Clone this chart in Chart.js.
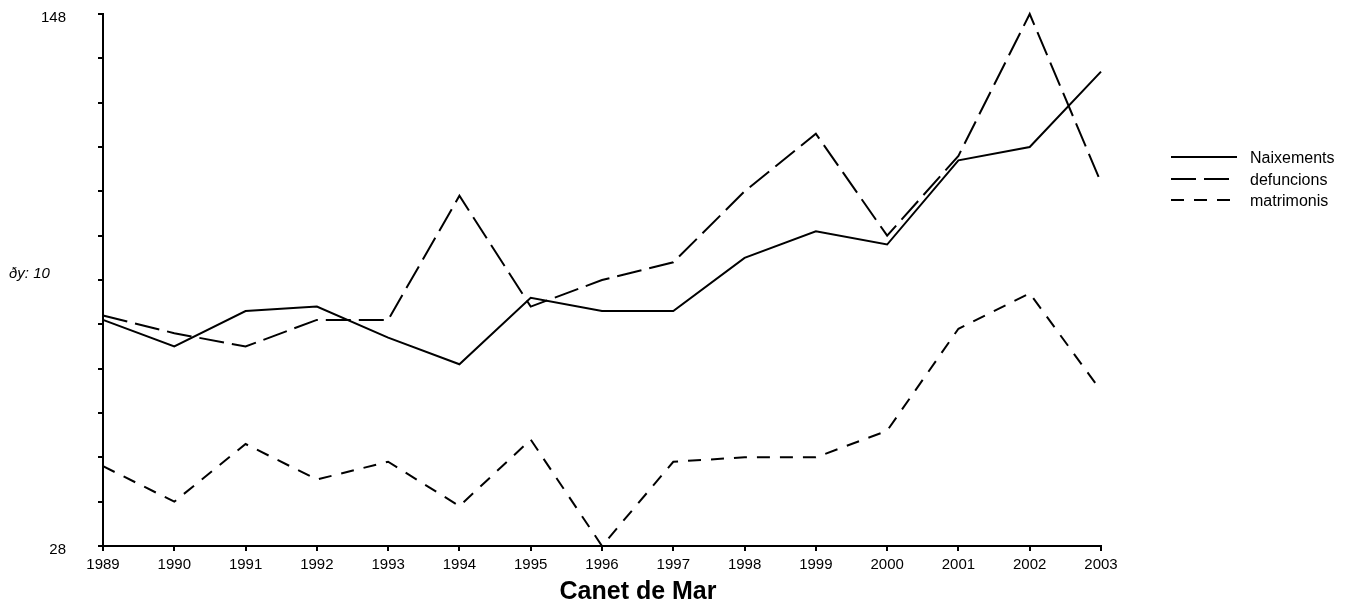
<!DOCTYPE html>
<html>
<head>
<meta charset="utf-8">
<script src="https://cdn.jsdelivr.net/npm/chart.js@4"></script>
<style>
  body { margin: 0; background: #fff; }
  #chart { display: block; }
</style>
</head>
<body>
<canvas id="chart" width="1351" height="608"></canvas>
<script>
// years along the bottom
const years = ['1989','1990','1991','1992','1993','1994','1995','1996','1997','1998','1999','2000','2001','2002','2003'];

// values
const naixements = [79, 73, 81, 82, 75, 69, 84, 81, 81, 93, 99, 96, 115, 118, 135];
const defuncions = [80, 76, 73, 79, 79, 107, 82, 88, 92, 108, 121, 98, 116, 148, 110];
const matrimonis = [46, 38, 51, 43, 47, 37, 52, 28, 47, 48, 48, 54, 77, 85, 63];

const yMin = 28;
const yMax = 148;
const yStep = 10;

const chartTitle = 'Canet de Mar';
const stepLabel = 'ðy: 10';

// legend + the loose texts drawn straight on the canvas
const extras = {
    id: 'extras',
    afterDraw(chart) {
        const ctx = chart.ctx;
        ctx.save();
        ctx.fillStyle = '#000';
        ctx.textBaseline = 'middle';

        ctx.font = 'italic 15px "Liberation Sans", Arial, sans-serif';
        ctx.textAlign = 'left';
        ctx.fillText(stepLabel, 9, 274);

        ctx.font = 'bold 25px "Liberation Sans", Arial, sans-serif';
        ctx.textAlign = 'center';
        ctx.fillText(chartTitle, 638, 592);

        const rows = [157, 179, 200];
        ctx.font = '16px "Liberation Sans", Arial, sans-serif';
        ctx.textAlign = 'left';
        chart.data.datasets.forEach((ds, i) => {
            ctx.beginPath();
            ctx.lineWidth = ds.borderWidth;
            ctx.strokeStyle = ds.borderColor;
            ctx.setLineDash(ds.borderDash || []);
            ctx.moveTo(1171, rows[i]);
            ctx.lineTo(1237, rows[i]);
            ctx.stroke();
            ctx.setLineDash([]);
            ctx.fillText(ds.label, 1250, rows[i] + 2);
        });
        ctx.restore();
    }
};

new Chart(document.getElementById('chart'), {
    type: 'line',
    data: {
        labels: years,
        datasets: [{
            label: 'Naixements',
            data: naixements,
            borderColor: '#000',
            borderWidth: 2,
            pointRadius: 0
        }, {
            label: 'defuncions',
            data: defuncions,
            borderColor: '#000',
            borderWidth: 2,
            borderDash: [25, 8],
            pointRadius: 0
        }, {
            label: 'matrimonis',
            data: matrimonis,
            borderColor: '#000',
            borderWidth: 2,
            borderDash: [13, 10],
            pointRadius: 0
        }]
    },
    options: {
        responsive: false,
        animation: false,
        clip: false,
        layout: {
            padding: { left: 0, top: 14, right: 250, bottom: 0 }
        },
        plugins: {
            legend: { display: false },
            tooltip: { enabled: false }
        },
        scales: {
            x: {
                offset: false,
                afterFit: axis => {
                    axis.height = 62;
                    axis.paddingLeft = 0;
                    axis.paddingRight = 0;
                },
                border: { display: true, color: '#000', width: 2 },
                grid: { drawOnChartArea: false, drawTicks: true, tickLength: 5, color: '#000', lineWidth: 2 },
                ticks: {
                    color: '#000',
                    font: { family: '"Liberation Sans", Arial, sans-serif', size: 15 },
                    autoSkip: false,
                    maxRotation: 0,
                    padding: 5
                }
            },
            y: {
                min: yMin,
                max: yMax,
                afterFit: axis => {
                    axis.width = 103;
                    axis.paddingTop = 0;
                    axis.paddingBottom = 0;
                },
                border: { display: true, color: '#000', width: 2 },
                grid: { drawOnChartArea: false, drawTicks: true, tickLength: 5, color: '#000', lineWidth: 2 },
                ticks: {
                    stepSize: yStep,
                    color: '#000',
                    padding: 32,
                    labelOffset: 4,
                    font: { family: '"Liberation Sans", Arial, sans-serif', size: 15 },
                    callback: v => (v === yMin || v === yMax) ? v : ''
                }
            }
        }
    },
    plugins: [extras]
});
</script>
</body>
</html>
